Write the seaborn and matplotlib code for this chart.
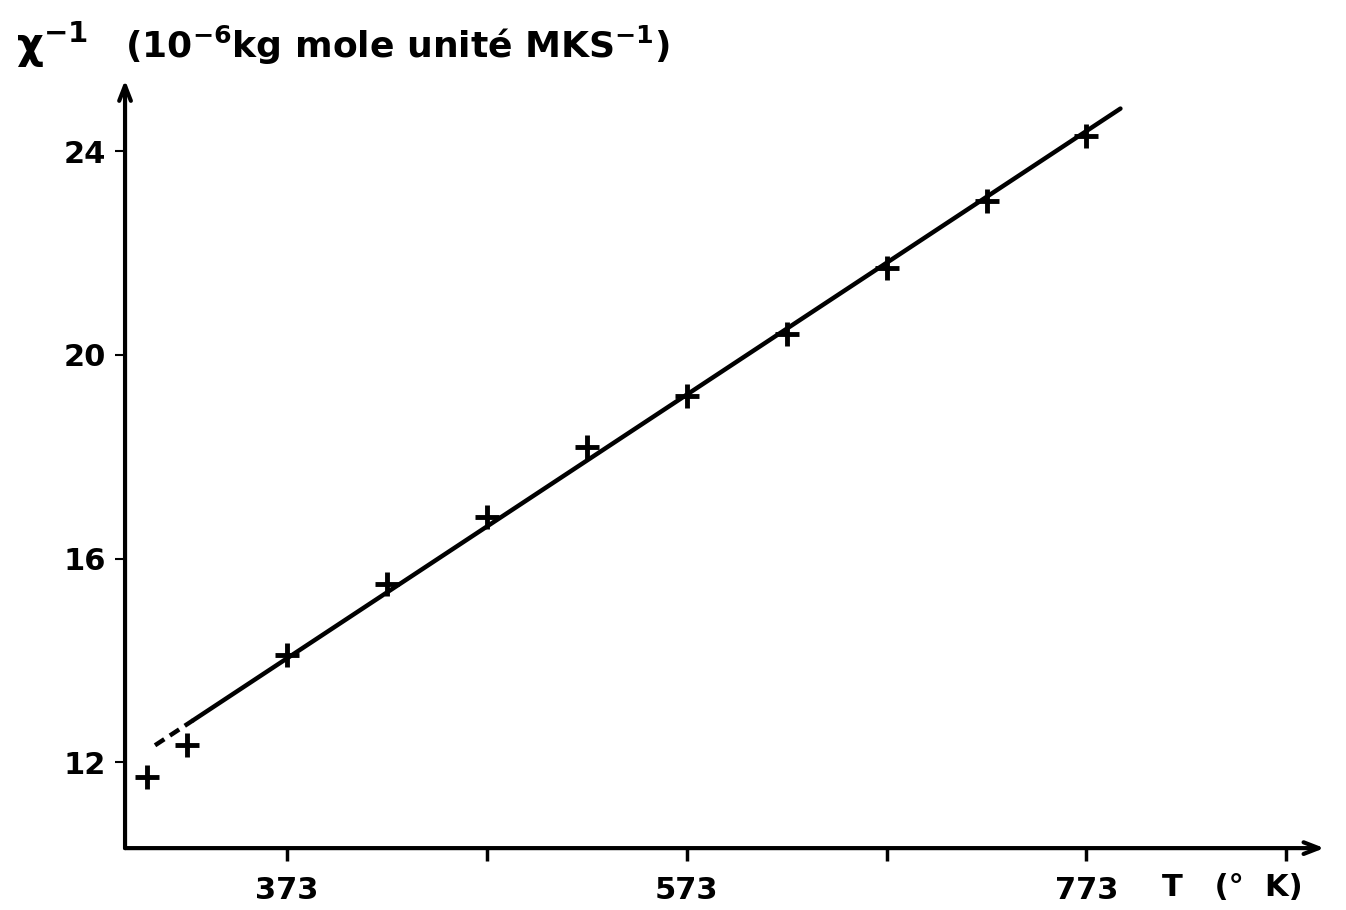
import matplotlib
matplotlib.use("Agg")
import matplotlib.pyplot as plt
import seaborn as sns
import pandas as pd

# Data
temps_K = [303, 323, 373, 423, 473, 523, 573, 623, 673, 723, 773]
inv_chi = [11.70, 12.33, 14.10, 15.50, 16.82, 18.20, 19.20, 20.42, 21.70, 23.02, 24.30]
fit_T = [326, 790]
fit_y = [12.82, 24.84]
ext_T = [307, 326]
ext_y = [12.33, 12.82]
x_ticks = [373, 473, 573, 673, 773, 873]
x_tick_labels = ["373", "", "573", "", "773", ""]
y_ticks = [12, 16, 20, 24]
y_tick_labels = ["12", "16", "20", "24"]

sns.set_theme(style="white")
plt.rcParams['font.family'] = ['DejaVu Sans']
plt.rcParams['mathtext.default'] = 'bf'
plt.rcParams['text.color'] = 'black'
plt.rcParams['xtick.color'] = 'black'
plt.rcParams['ytick.color'] = 'black'

fig = plt.figure(figsize=(13.46, 9.10), dpi=100)
ax = fig.add_axes([0.0929, 0.068, 0.891, 0.844])

df = pd.DataFrame({"T": temps_K, "chi": inv_chi})
sns.lineplot(x=fit_T, y=fit_y, color="black", linewidth=3.2, ax=ax)
sns.lineplot(x=ext_T, y=ext_y, color="black", linewidth=3.2, linestyle=(0, (2.5, 1.5)), ax=ax)
sns.scatterplot(data=df, x="T", y="chi", marker="+", s=300, color="black", linewidth=3.5, ax=ax, zorder=5)

ax.set_xlim(292, 892)
ax.set_ylim(10.31, 25.4)

for s in ["top", "right", "left", "bottom"]:
    ax.spines[s].set_visible(False)

# axes with arrow heads
ax.annotate("", xy=(1.0, 0), xytext=(0, 0), xycoords="axes fraction",
            arrowprops=dict(arrowstyle="->,head_length=0.9,head_width=0.35", lw=3, color="black",
                            shrinkA=0, shrinkB=0))
ax.annotate("", xy=(0, 1.0), xytext=(0, 0), xycoords="axes fraction",
            arrowprops=dict(arrowstyle="->,head_length=0.9,head_width=0.35", lw=3, color="black",
                            shrinkA=0, shrinkB=0))

ax.set_xticks(x_ticks)
ax.set_xticklabels(x_tick_labels, fontsize=22, fontweight="bold")
ax.set_yticks(y_ticks)
ax.set_yticklabels(y_tick_labels, fontsize=22, fontweight="bold")
ax.tick_params(axis="x", direction="out", length=9, width=2.5, pad=11, bottom=True)
ax.tick_params(axis="y", direction="out", length=7, width=1.5, pad=7, left=True)
ax.set_xlabel("")
ax.set_ylabel("")
ax.grid(False)

fig.text(1162 / 1346, 1 - 887 / 910, "T   (°  K)", fontsize=22, fontweight="bold", va="center", ha="left")
fig.text(16 / 1346, 1 - 45 / 910, r"$\chi^{-1}$", fontsize=30, va="center", ha="left")
fig.text(125 / 1346, 1 - 45 / 910, r"(10$^{-6}$kg mole unité MKS$^{-1}$)", fontsize=26,
         fontweight="bold", va="center", ha="left")

fig.savefig("out.png", dpi=100, facecolor="white")
